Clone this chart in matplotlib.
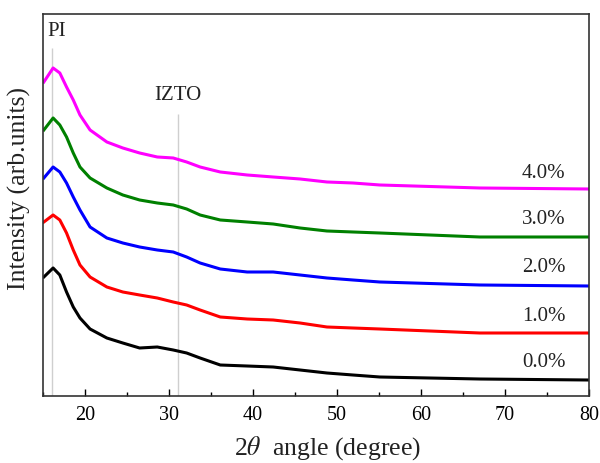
import matplotlib
matplotlib.use('Agg')
from matplotlib import pyplot as plt
from matplotlib.ticker import MultipleLocator

plt.rcParams['font.family'] = ['Liberation Serif', 'DejaVu Serif']
plt.rcParams['mathtext.fontset'] = 'stix'

# 2theta positions (degree)
two_theta = [15.1, 16.2, 17.0, 17.8, 18.6, 19.4, 20.6, 22.6, 24.5, 26.5, 28.6,
             30.5, 32.1, 33.7, 36.1, 39.3, 42.4, 45.6, 48.8, 51.9, 55.1, 67.0, 80.0]

# stacked intensity (arb. units), offsets included as plotted
int_00 = [119, 128, 121, 104, 89, 78, 67, 58, 53, 48, 49, 46, 43, 38, 31, 30,
          29, 26, 23, 21, 19, 17, 16]
int_10 = [174, 181, 176, 163, 146, 131, 119, 109, 104, 101, 98, 94, 91, 86, 79,
          77, 76, 73, 69, 68, 67, 63, 63]
int_20 = [218, 229, 224, 213, 199, 186, 169, 158, 153, 149, 146, 144, 139, 133,
          127, 124, 124, 121, 118, 116, 114, 111, 110]
int_30 = [266, 278, 271, 259, 243, 229, 218, 208, 201, 196, 193, 191, 187, 181,
          176, 174, 172, 168, 165, 164, 163, 159, 159]
int_40 = [314, 328, 323, 309, 296, 281, 266, 254, 248, 243, 239, 238, 234, 229,
          224, 221, 219, 217, 214, 213, 211, 208, 207]

labels = ['0.0%', '1.0%', '2.0%', '3.0%', '4.0%']
label_y = [34, 79, 128, 176, 222]
colors = ['black', '#ff0000', '#0000ff', '#008000', '#ff00ff']

peak_pos = [16.1, 31.05]
peak_names = ['PI', 'IZTO']

fig = plt.figure(figsize=(6.0, 4.63), dpi=100)
ax = fig.add_axes([0.0717, 0.1447, 0.91, 0.8251])

# reference lines for the peaks
ax.vlines(peak_pos[0], 0, 348, color='#cfcfcf', lw=1.0, zorder=1)
ax.vlines(peak_pos[1], 0, 282, color='#cfcfcf', lw=1.0, zorder=1)
ax.text(15.5, 364, peak_names[0], fontsize=15, ha='left', va='center', color='#222222')
ax.text(peak_pos[1], 300, peak_names[1], fontsize=15, ha='center', va='center', color='#222222')

for ys, c, lab, ly in zip([int_00, int_10, int_20, int_30, int_40], colors, labels, label_y):
    ax.plot(two_theta, ys, color=c, lw=2.2, zorder=2)
    ax.text(77.2, ly, lab, fontsize=15, ha='right', va='center', color='#222222')

ax.set_xlim(15, 80)
ax.set_ylim(0, 382)
ax.xaxis.set_major_locator(MultipleLocator(10))
ax.xaxis.set_minor_locator(MultipleLocator(5))
ax.tick_params(axis='x', which='major', direction='in', length=5, width=1, labelsize=14.5, pad=7)
ax.tick_params(axis='x', which='minor', direction='in', length=3, width=1)
ax.set_yticks([])
for s in ax.spines.values():
    s.set_linewidth(1.2)
    s.set_color('#333333')

ax.set_xlabel(r'2$\theta$  angle (degree)', fontsize=18.5, color='#222222')
ax.set_ylabel('Intensity (arb.units)', fontsize=18.5, color='#222222')
ax.xaxis.set_label_coords(0.52, -0.1)
ax.yaxis.set_label_coords(-0.022, 0.542)

fig.savefig('out.png', dpi=100)
